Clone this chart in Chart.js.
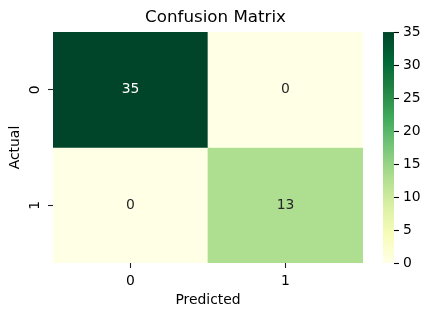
<!DOCTYPE html>
<html>
<head>
<meta charset="utf-8">
<script src="https://cdn.jsdelivr.net/npm/chart.js@4/dist/chart.umd.min.js"></script>
<style>
html,body{margin:0;padding:0;background:#fff;}
canvas{display:block;}
</style>
</head>
<body>
<canvas id="c" width="431" height="316"></canvas>
<script>
// ---- data ----
const predictedLabels = ['0', '1'];
const actualLabels = ['0', '1'];
const rowActual0 = [35, 0];
const rowActual1 = [0, 13];
const colorbarMin = 0;
const colorbarMax = 35;
const colorbarStep = 5;

const matrix = [rowActual0, rowActual1];

// YlGn colormap stops
const ylgn = ['#ffffe5','#f7fcb9','#d9f0a3','#addd8e','#78c679','#41ab5d','#238443','#006837','#004529'];
function hex2rgb(h){return [parseInt(h.slice(1,3),16),parseInt(h.slice(3,5),16),parseInt(h.slice(5,7),16)];}
function cmap(t){
  t = Math.max(0, Math.min(1, t));
  const n = ylgn.length - 1;
  const p = t * n; const i = Math.min(n - 1, Math.floor(p)); const f = p - i;
  const a = hex2rgb(ylgn[i]), b = hex2rgb(ylgn[i+1]);
  const c = a.map((v,k)=>Math.round(v + (b[k]-v)*f));
  return 'rgb(' + c.join(',') + ')';
}
function norm(v){ return (v - colorbarMin) / (colorbarMax - colorbarMin); }

const FS = 13.9;
Chart.defaults.font.family = 'DejaVu Sans';
Chart.defaults.font.size = FS;
Chart.defaults.color = '#000';

const datasets = matrix.map((row, i) => ({
  label: 'Actual ' + actualLabels[i],
  data: row.map(() => [i, i + 1]),
  backgroundColor: row.map(v => cmap(norm(v))),
  borderWidth: 0,
  borderSkipped: false,
  barPercentage: 1,
  categoryPercentage: 1,
  yAxisID: 'y'
}));

const annotPlugin = {
  id: 'annot',
  afterDatasetsDraw(chart) {
    const ctx = chart.ctx;
    ctx.save();
    ctx.font = FS + 'px "DejaVu Sans"';
    ctx.textAlign = 'center';
    ctx.textBaseline = 'middle';
    matrix.forEach((row, i) => {
      const meta = chart.getDatasetMeta(i);
      meta.data.forEach((el, j) => {
        const v = row[j];
        ctx.fillStyle = norm(v) > 0.6 ? '#ffffff' : '#262626';
        ctx.fillText(String(v), el.x, (el.y + el.base) / 2);
      });
    });
    ctx.restore();
  }
};

const colorbarPlugin = {
  id: 'colorbar',
  afterDraw(chart) {
    const s = chart.scales.y2;
    const ctx = chart.ctx;
    const x0 = s.left + 20, w = 11;
    const top = s.getPixelForValue(colorbarMax), bot = s.getPixelForValue(colorbarMin);
    const g = ctx.createLinearGradient(0, bot, 0, top);
    ylgn.forEach((c, k) => g.addColorStop(k / (ylgn.length - 1), c));
    ctx.save();
    ctx.fillStyle = g;
    ctx.fillRect(x0, top, w, bot - top);
    ctx.strokeStyle = '#000';
    ctx.lineWidth = 1.1;
    s.ticks.forEach(t => {
      const y = Math.round(s.getPixelForValue(t.value)) + 0.5;
      ctx.beginPath();
      ctx.moveTo(x0 + w, y);
      ctx.lineTo(x0 + w + 5, y);
      ctx.stroke();
    });
    ctx.restore();
  }
};

function noPad(s) { s.paddingTop = 0; s.paddingBottom = 0; s.paddingLeft = 0; s.paddingRight = 0; }

new Chart(document.getElementById('c'), {
  type: 'bar',
  data: { labels: predictedLabels, datasets },
  plugins: [annotPlugin, colorbarPlugin],
  options: {
    responsive: false,
    animation: false,
    layout: { padding: 0 },
    plugins: {
      legend: { display: false },
      tooltip: { enabled: false },
      title: {
        display: true,
        text: 'Confusion Matrix',
        color: '#000',
        font: { size: 16.7, weight: 'normal' },
        padding: { top: 8, bottom: 4 }
      }
    },
    scales: {
      x: {
        stacked: true,
        offset: true,
        grid: { offset: false, drawOnChartArea: false, tickLength: 5, color: '#222', tickWidth: 1.1 },
        border: { display: false },
        ticks: { padding: 5, color: '#000' },
        title: { display: true, text: 'Predicted', color: '#000', font: { size: FS }, padding: { top: 0, bottom: 7 } },
        afterFit(s) { s.height = 53; noPad(s); }
      },
      y: {
        type: 'linear',
        stacked: false,
        min: 0,
        max: 2,
        reverse: true,
        afterBuildTicks(s) { s.ticks = actualLabels.map((_, i) => ({ value: i + 0.5 })); },
        ticks: {
          minRotation: 90,
          maxRotation: 90,
          crossAlign: 'center',
          padding: 8,
          color: '#000',
          callback: (v) => actualLabels[Math.floor(v)]
        },
        grid: { drawOnChartArea: false, tickLength: 5, color: '#222', tickWidth: 1.1 },
        border: { display: false },
        title: { display: true, text: 'Actual', color: '#000', font: { size: FS }, padding: { top: 6.7, bottom: 0 } },
        afterFit(s) { s.width = 53; noPad(s); }
      },
      y2: {
        type: 'linear',
        position: 'right',
        min: colorbarMin,
        max: colorbarMax,
        ticks: { stepSize: colorbarStep, padding: 40, color: '#000' },
        grid: { display: false, drawTicks: false, drawOnChartArea: false },
        border: { display: false },
        afterFit(s) { s.width = 68; noPad(s); }
      }
    }
  }
});
</script>
</body>
</html>
